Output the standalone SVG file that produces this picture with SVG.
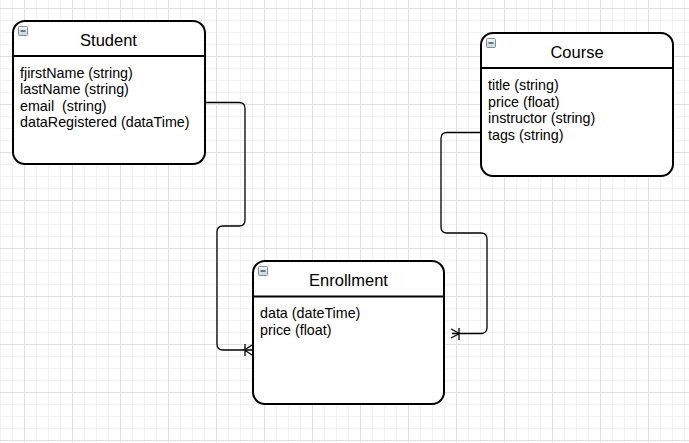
<svg xmlns="http://www.w3.org/2000/svg" width="689" height="443" viewBox="0 0 689 443">
  <defs>
    <pattern id="grid" patternUnits="userSpaceOnUse" x="24" y="8" width="48" height="48">
      <path d="M12.5 0V48M24.5 0V48M36.5 0V48M0 12.5H48M0 24.5H48M0 36.5H48" stroke="#f2f2f2" stroke-width="1" fill="none"/>
      <path d="M0.5 0V48M0 0.5H48" stroke="#e0e0e0" stroke-width="1" fill="none"/>
    </pattern>
    <linearGradient id="icoGrad" x1="0" y1="0" x2="0" y2="1">
      <stop offset="0" stop-color="#f4f6f8"/>
      <stop offset="1" stop-color="#c9d2db"/>
    </linearGradient>
    <g id="collapse">
      <rect x="0.5" y="0.5" width="9" height="9" rx="1" fill="url(#icoGrad)" stroke="#7f8c99" stroke-width="1"/>
      <path d="M2.5 5H7.5" stroke="#3c4650" stroke-width="1.4"/>
    </g>
  </defs>
  <style>
    .box { fill: #ffffff; stroke: #000000; stroke-width: 2; }
    .sep { stroke: #000000; stroke-width: 2; }
    .title { font-family: "Liberation Sans", Arial, sans-serif; font-size: 16.5px; fill: #000000; text-anchor: middle; }
    .attr { font-family: "Liberation Sans", Arial, sans-serif; font-size: 14.3px; fill: #000000; }
    .conn { fill: none; stroke: #000000; stroke-width: 1.3; }
  </style>
  <rect width="689" height="443" fill="#ffffff"/>
  <rect width="689" height="443" fill="url(#grid)"/>

  <g id="connectors">
    <path class="conn" d="M205 102.5H239Q245 102.5 245 108.5V220Q245 226 239 226H223Q217 226 217 232V344Q217 350 223 350H252"/>
    <path class="conn" d="M245 344V356M244.5 350L252 345M244.5 350L252 355"/>
    <path class="conn" d="M480 132.5H447Q441 132.5 441 138.5V227Q441 233 447 233H481Q487 233 487 239V327.5Q487 333.5 481 333.5H452"/>
    <path class="conn" d="M459 328V340M459.5 333.5L451 329M459.5 333.5L451 338"/>
  </g>

  <g id="student">
    <rect class="box" x="13" y="21" width="192" height="143" rx="12"/>
    <line class="sep" x1="13" y1="56" x2="205" y2="56"/>
    <use href="#collapse" x="18" y="26"/>
    <text class="title" x="108.5" y="46">Student</text>
    <text class="attr" x="20" y="77.7">fjirstName (string)</text>
    <text class="attr" x="20" y="94.2">lastName (string)</text>
    <text class="attr" x="20" y="110.7" xml:space="preserve">email  (string)</text>
    <text class="attr" x="20" y="127.2">dataRegistered (dataTime)</text>
  </g>

  <g id="course">
    <rect class="box" x="481" y="33" width="192" height="143" rx="12"/>
    <line class="sep" x1="481" y1="68" x2="673" y2="68"/>
    <use href="#collapse" x="486" y="38"/>
    <text class="title" x="577" y="58">Course</text>
    <text class="attr" x="488" y="90">title (string)</text>
    <text class="attr" x="488" y="106.5">price (float)</text>
    <text class="attr" x="488" y="123">instructor (string)</text>
    <text class="attr" x="488" y="139.5">tags (string)</text>
  </g>

  <g id="enrollment">
    <rect class="box" x="253" y="261" width="191" height="143" rx="12"/>
    <line class="sep" x1="253" y1="296.5" x2="444" y2="296.5"/>
    <use href="#collapse" x="258" y="266"/>
    <text class="title" x="348.5" y="286">Enrollment</text>
    <text class="attr" x="260" y="318">data (dateTime)</text>
    <text class="attr" x="260" y="334.5">price (float)</text>
  </g>
</svg>
